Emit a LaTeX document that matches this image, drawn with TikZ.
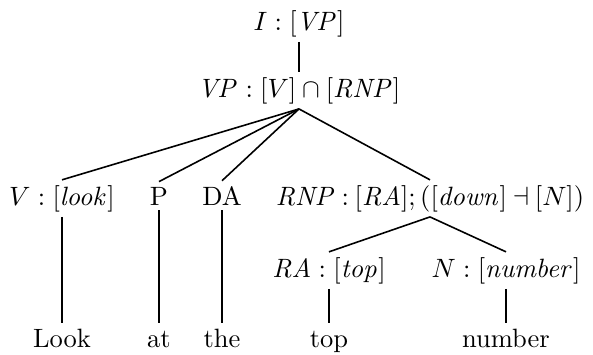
\documentclass[tikz,border=0pt]{standalone}
\begin{document}
\begin{tikzpicture}[x=0.3774pt,y=-0.3774pt,
  lab/.style={anchor=base, inner xsep=0pt, inner ysep=2pt, outer sep=0pt},
  word/.style={lab, text height=7pt},
  edge/.style={line width=0.6pt}]
\useasboundingbox (0,0) rectangle (593,354);
% row 0
\node[lab] (I) at (299,30) {$I:[\mathit{VP}]$};
% row 1
\node[lab] (VP) at (299,97) {$\mathit{VP}:[V]\cap[\mathit{RNP}]$};
% row 2
\node[lab] (V) at (62,205) {$V:[\mathit{look}]$};
\node[lab] (P) at (159,205) {P};
\node[lab] (DA) at (222,205) {DA};
\node[lab] (RNP) at (430,205) {$\thickmuskip=4mu \mathit{RNP}:[\mathit{RA}];([\mathit{down}]\dashv[N])$};
% row 3
\node[lab] (RA) at (329,277) {$\mathit{RA}:[\mathit{top}]$};
\node[lab] (N) at (506,277) {$N:[\mathit{number}]$};
% row 4
\node[word] (Look) at (62,347) {Look};
\node[word] (at) at (159,347) {at};
\node[word] (the) at (222,347) {the};
\node[word] (top) at (329,347) {top};
\node[word] (number) at (506,347) {number};
% edges
\draw[edge] (I.south) -- (VP.north);
\draw[edge] (VP.south) -- (V.north);
\draw[edge] (VP.south) -- (P.north);
\draw[edge] (VP.south) -- (DA.north);
\draw[edge] (VP.south) -- (RNP.north);
\draw[edge] (RNP.south) -- (RA.north);
\draw[edge] (RNP.south) -- (N.north);
\draw[edge] (V.south) -- (Look.north);
\draw[edge] (P.south) -- (at.north);
\draw[edge] (DA.south) -- (the.north);
\draw[edge] (RA.south) -- (top.north);
\draw[edge] (N.south) -- (number.north);
\end{tikzpicture}
\end{document}
